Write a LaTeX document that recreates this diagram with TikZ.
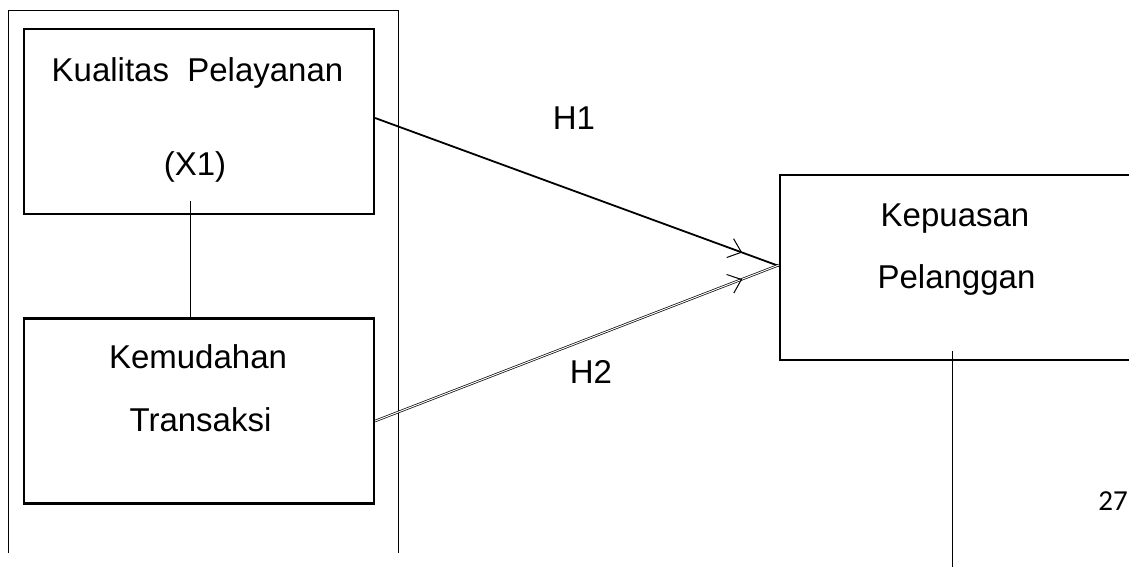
\documentclass[tikz,border=0pt]{standalone}
\usepackage{fontspec}
\setmainfont{Liberation Sans}
\newfontfamily\calib{Carlito}
\usetikzlibrary{arrows.meta,decorations.markings}
\tikzset{
  varbox/.style={draw, line width=2.2pt, minimum width=350pt, minimum height=185pt, inner sep=0pt},
  lbl/.style={anchor=base, inner sep=0pt, font=\fontsize{33}{39}\selectfont},
  frame/.style={line width=0.8pt},
  thin/.style={line width=1pt},
  headmark/.style={postaction={decorate}, decoration={markings, mark=at position 0.909 with {\arrow[line width=1pt]{Straight Barb[length=12pt,width=20pt]}}}},
  hone/.style={line width=1.8pt, headmark},
  htwo/.style={double, line width=0.7pt, double distance=1pt, headmark}
}
\begin{document}
\begin{tikzpicture}[x=1pt,y=-1pt]
\clip (0,0) rectangle (1129,567);
\fill[white] (0,0) rectangle (1129,567);
% outer frame
\draw[frame] (8,553) -- (8,10) -- (398,10) -- (398,553);
% boxes
\node[varbox] (b1) at (199,121.5) {};
\node[varbox] (b2) at (199,411) {};
\node[varbox, minimum width=360pt] (b3) at (960,267.5) {};
% texts
\node[lbl] (t1a) at (197.5,81.7) {Kualitas\ \ Pelayanan};
\node[lbl] (t1b) at (195,175) {(X1)};
\node[lbl] (t2a) at (198,368) {Kemudahan};
\node[lbl] (t2b) at (200.5,431.7) {Transaksi};
\node[lbl] (t3a) at (955,226.7) {Kepuasan};
\node[lbl] (t3b) at (956.5,288.3) {Pelanggan};
\node[lbl] (h1) at (574,130) {H1};
\node[lbl] (h2) at (591,383.3) {H2};
\node[anchor=base, inner sep=0pt, font=\calib\fontsize{29}{35}\selectfont] (pg) at (1113,510) {27};
% connectors
\draw[thin] ([xshift=-9pt,yshift=14pt]b1.south) -- ([xshift=-9pt]b2.north);
\coordinate (bot) at (952,567);
\draw[thin] ([yshift=10pt]b3.south -| bot) -- (bot);
\draw[hone] ([yshift=3.5pt]b1.east) -- ([yshift=1.5pt]b3.west);
\draw[htwo] ([yshift=-10pt]b2.east) -- ([yshift=2.5pt]b3.west);
\end{tikzpicture}
\end{document}
